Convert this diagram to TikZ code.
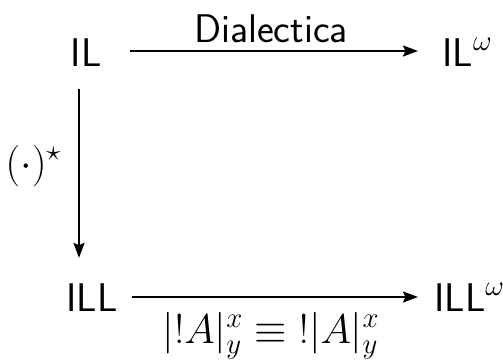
\documentclass[tikz,border=0pt]{standalone}
\usetikzlibrary{arrows.meta,calc}
\begin{document}
\begin{tikzpicture}[x=0.5pt,y=-0.5pt,
  lbl/.style={inner sep=0pt,font=\fontsize{20}{24}\selectfont\sffamily},
  arr/.style={line width=0.9pt,-{Stealth[length=7.5pt,width=5.5pt,inset=1.2pt]}}]
\useasboundingbox (0,0) rectangle (503,359);
\node[lbl,anchor=base] (IL) at (86,66) {IL};
\node[lbl,anchor=base west] (ILw) at (442,66) {IL$^\omega$};
\node[lbl,anchor=base] (ILL) at (92,311) {ILL};
\node[lbl,anchor=base west] (ILLw) at (434,311) {ILL$^\omega$};
\node[lbl,anchor=base] (dial) at (271,42) {Dialectica};
\node[lbl,anchor=base] (eq) at (271,343) {$|{!}A|^x_y \equiv {!}|A|^x_y$};
\node[lbl,anchor=base east] (star) at (62,176) {$(\cdot)^\star$};
\draw[arr] ($(IL.base east)+(28,-15)$) -- ($(ILw.base west)+(-24,-15)$);
\draw[arr] ($(ILL.base east)+(14,-14)$) -- ($(ILLw.base west)+(-16,-14)$);
\draw[arr] ($(IL.base)+(-7,23)$) -- ($(IL.base |- ILL.north)+(-7,-25)$);
\end{tikzpicture}
\end{document}
